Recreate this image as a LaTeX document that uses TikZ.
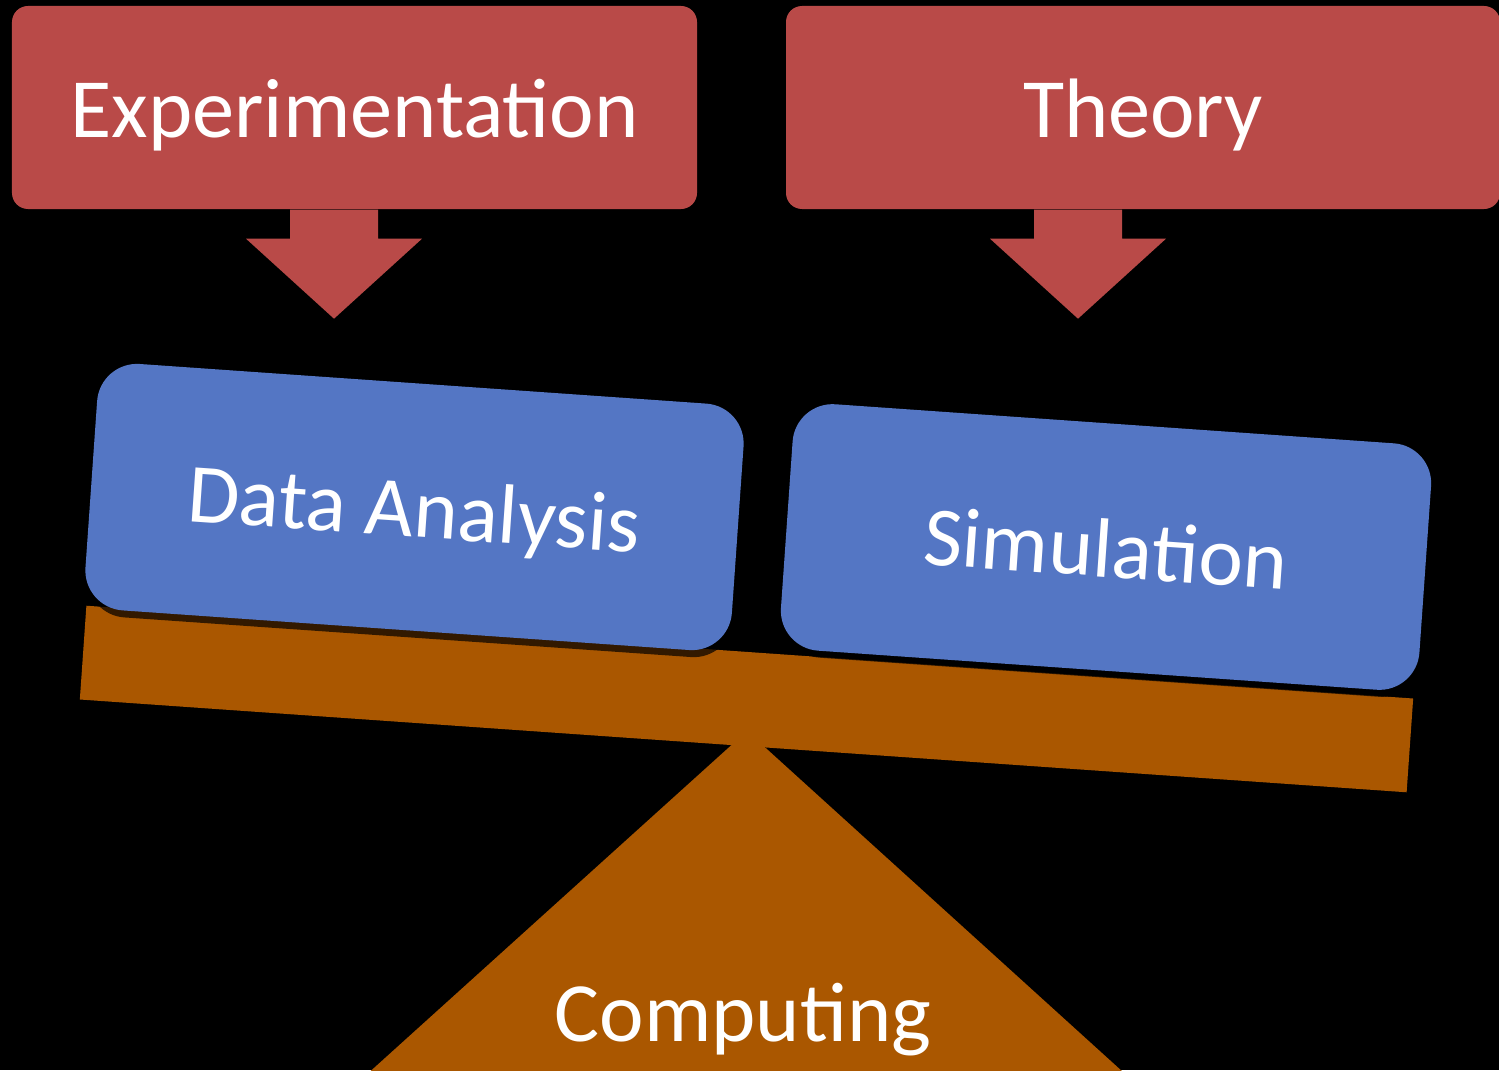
\documentclass[tikz,border=0pt]{standalone}
\usepackage{fontspec}
\setmainfont{Carlito}
\usetikzlibrary{shadows}
\definecolor{boxred}{HTML}{B94A48}
\definecolor{boxblue}{HTML}{5476C4}
\definecolor{plankbrown}{HTML}{AA5700}
\tikzset{
  wtext/.style={text=white, font=\fontsize{24}{28}\selectfont, text height=0.6cm, text depth=0pt, inner sep=0pt},
  redbox/.style={wtext, fill=boxred, rounded corners=0.16cm, minimum height=2.03cm},
  bluebox/.style={wtext, fill=boxblue, rounded corners=0.4cm, minimum height=2.47cm, rotate=-4,
    drop shadow={shadow xshift=0.5pt, shadow yshift=-2pt, opacity=0.7, fill=black}},
}
\newcommand{\blockarrow}[1]{\fill[boxred] (#1) ++(-0.44,0) -- ++(0,-0.29) -- ++(-0.44,0) -- ++(0.88,-0.80) -- ++(0.88,0.80) -- ++(-0.44,0) -- ++(0,0.29) -- cycle;}
\begin{document}
\begin{tikzpicture}
  \useasboundingbox[fill=black] (0,0) rectangle (14.99,10.70);
  \clip (0,0) rectangle (14.99,10.70);
  % fulcrum
  \coordinate (apex) at (7.47,3.39);
  \fill[plankbrown] (apex) -- (2.61,-1) -- (12.31,-1) -- cycle;
  \node[wtext, anchor=base] (comp) at (7.43,0.29) {Computing};
  % plank
  \node[fill=plankbrown, minimum width=13.30cm, minimum height=0.94cm, rotate=-4] (plank) at (7.465,3.71) {};
  % the two pans
  \node[bluebox, minimum width=6.48cm] (data) at (4.145,5.63) {Data Analysis};
  \node[bluebox, minimum width=6.40cm] (sim) at (11.06,5.23) {Simulation};
  % inputs
  \node[redbox, minimum width=6.85cm] (exp) at (3.545,9.625) {Experimentation};
  \node[redbox, minimum width=7.14cm] (theo) at (11.43,9.625) {Theory};
  \path ([xshift=-0.205cm]exp.south) coordinate (expArr);
  \path ([xshift=-0.65cm]theo.south) coordinate (theoArr);
  \blockarrow{expArr}
  \blockarrow{theoArr}
\end{tikzpicture}
\end{document}
